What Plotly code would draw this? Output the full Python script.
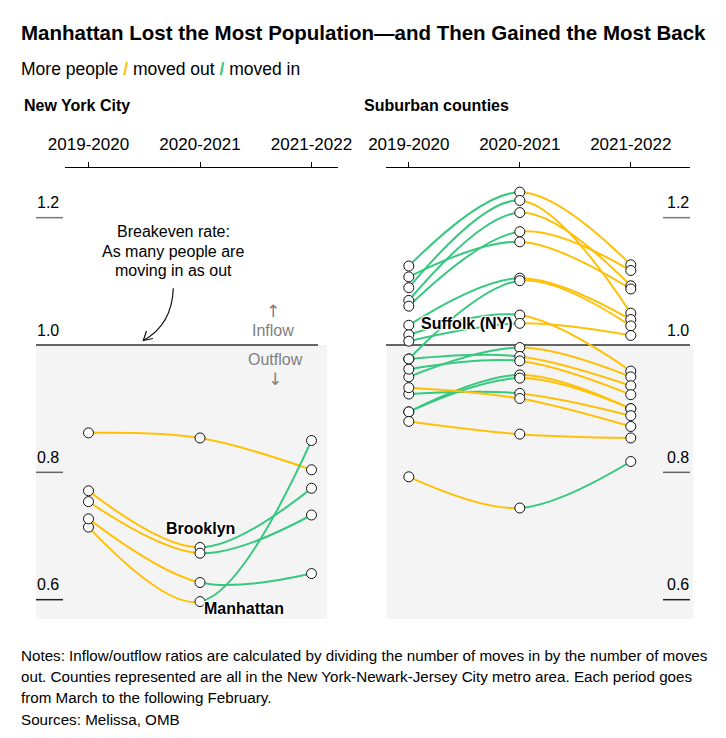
import plotly.graph_objects as go

# periods on the x axis
periods = ["2019-2020", "2020-2021", "2021-2022"]

# New York City boroughs: inflow/outflow ratio per period
nyc_names = ["", "Manhattan", "", "Brooklyn", ""]
nyc_2019 = [0.862, 0.714, 0.727, 0.771, 0.754]
nyc_2020 = [0.854, 0.597, 0.627, 0.682, 0.673]
nyc_2021 = [0.804, 0.850, 0.641, 0.775, 0.733]

# Suburban counties
sub_names = ["", "", "", "", "", "", "", "", "Suffolk (NY)", "", "", "", "", "", "", "", "", ""]
sub_2019 = [1.124, 1.090, 1.070, 1.061, 1.107, 1.031, 0.978, 1.016, 1.006,
            0.950, 0.978, 0.962, 0.895, 0.895, 0.923, 0.933, 0.880, 0.793]
sub_2020 = [1.240, 1.227, 1.208, 1.178, 1.162, 1.105, 1.101, 1.047, 1.034,
            0.996, 0.982, 0.975, 0.953, 0.948, 0.924, 0.916, 0.860, 0.744]
sub_2021 = [1.126, 1.050, 1.093, 1.117, 1.088, 1.040, 1.030, 0.959, 1.015,
            0.950, 0.936, 0.922, 0.900, 0.900, 0.889, 0.872, 0.854, 0.817]

y_ticks = [1.2, 1.0, 0.8, 0.6]

YELLOW = "#FFC107"
GREEN = "#36C97F"
BG = "#F4F4F4"
FONT = "Liberation Sans, Arial, sans-serif"

W, H = 726, 738


def fx(p):
    return p / W


def fy(p):
    return 1 - p / H


# vertical scale: pixel row of 1.0 and pixels per unit
Y0, PPU = 345, 636.7
TOP, BOT = 170, 619
yr = [1 + (Y0 - BOT) / PPU, 1 + (Y0 - TOP) / PPU]
ydom = [fy(BOT), fy(TOP)]

# column centres (pixels) for each panel
L_COLS = [88.5, 200, 311.5]
R_COLS = [408.8, 519.8, 630.8]


def seg_colour(a, b):
    return GREEN if b > a else YELLOW


fig = go.Figure()

# lines: each one drawn twice as a full spline, clipped to each half
panels = [
    ((nyc_2019, nyc_2020, nyc_2021), ("x", "y"), ("x2", "y2")),
    ((sub_2019, sub_2020, sub_2021), ("x3", "y3"), ("x4", "y4")),
]
for (a, b, c), ax1, ax2 in panels:
    for i in range(len(a)):
        vals = [a[i], b[i], c[i]]
        for (xa, ya), col in ((ax1, seg_colour(a[i], b[i])), (ax2, seg_colour(b[i], c[i]))):
            fig.add_trace(go.Scatter(
                x=[0, 1, 2], y=vals, mode="lines", xaxis=xa, yaxis=ya,
                line=dict(color=col, width=2, shape="spline", smoothing=1, simplify=False),
                hoverinfo="skip", showlegend=False,
            ))

# points
for (a, b, c), xa, ya in (((nyc_2019, nyc_2020, nyc_2021), "x5", "y5"),
                          ((sub_2019, sub_2020, sub_2021), "x6", "y6")):
    n = len(a)
    fig.add_trace(go.Scatter(
        x=[0] * n + [1] * n + [2] * n, y=list(a) + list(b) + list(c),
        mode="markers", xaxis=xa, yaxis=ya, cliponaxis=False,
        marker=dict(size=10, color="white", line=dict(color="#111", width=1)),
        hoverinfo="y", showlegend=False,
    ))

hidden = dict(visible=False, showgrid=False, zeroline=False, fixedrange=True)
layout_axes = {}
for k, (cols, j) in enumerate(((L_COLS, 0), (L_COLS, 1), (R_COLS, 0), (R_COLS, 1))):
    n = "" if k == 0 else str(k + 1)
    layout_axes["xaxis" + n] = dict(hidden, domain=[fx(cols[j]), fx(cols[j + 1])], range=[j, j + 1])
    layout_axes["yaxis" + n] = dict(hidden, domain=ydom, range=yr, anchor="x" + n)


def top_axis(cols, left, right):
    step = cols[1] - cols[0]
    return dict(
        domain=[fx(left), fx(right)],
        range=[(left - cols[0]) / step, (right - cols[0]) / step],
        side="top", anchor="free", position=fy(167), automargin=False,
        showline=True, linecolor="#000", linewidth=1,
        ticks="outside", ticklen=5, tickcolor="#000", tickwidth=1,
        tickvals=[0, 1, 2], ticktext=periods, ticklabelstandoff=5,
        tickfont=dict(size=17, color="#000", family=FONT),
        showgrid=False, zeroline=False, fixedrange=True,
    )


layout_axes["xaxis5"] = top_axis(L_COLS, 65, 338)
layout_axes["xaxis6"] = top_axis(R_COLS, 386, 690)
layout_axes["yaxis5"] = dict(hidden, domain=ydom, range=yr, anchor="x5")
layout_axes["yaxis6"] = dict(hidden, domain=ydom, range=yr, anchor="x6")

shapes = []
# grey outflow zones and breakeven line
for x0, x1 in ((36, 327), (387, 693)):
    shapes.append(dict(type="rect", xref="paper", yref="y5", x0=fx(x0), x1=fx(x1),
                       y0=yr[0], y1=1.0, fillcolor=BG, line=dict(width=0), layer="below"))
for x0, x1 in ((36, 318), (386, 690)):
    shapes.append(dict(type="line", xref="paper", yref="y5", x0=fx(x0), x1=fx(x1),
                       y0=1.0, y1=1.0, line=dict(color="#333", width=1.5), layer="below"))
# short value ticks
tick_col = {1.2: "#777", 0.8: "#666", 0.6: "#222"}
for v in y_ticks:
    if v == 1.0:
        continue
    for x0, x1 in ((36, 63), (663, 690)):
        shapes.append(dict(type="line", xref="paper", yref="y5", x0=fx(x0), x1=fx(x1),
                           y0=v, y1=v, line=dict(color=tick_col[v], width=1.5)))


def pth(pts, cmd):
    out = []
    for c, (px, py) in zip(cmd, pts):
        out.append("%s%.5f,%.5f" % (c, fx(px), fy(py)))
    return " ".join(out)


# curved pointer of the breakeven note
shapes.append(dict(type="path", xref="paper", yref="paper",
                   path=pth([(173.3, 288.3), (172, 325), (143.3, 340.5)], ["M", "Q", " "]),
                   line=dict(color="#111", width=1.2)))
shapes.append(dict(type="path", xref="paper", yref="paper",
                   path=pth([(146.5, 331), (143.3, 340.5), (153, 338.5)], ["M", "L", "L"]),
                   line=dict(color="#111", width=1.2)))

ann = []


def txt(text, x, y, size=16, xanchor="left", bold=False, color="#000", family=FONT):
    ann.append(dict(text="<b>%s</b>" % text if bold else text, x=fx(x), y=fy(y),
                    xref="paper", yref="paper", xanchor=xanchor, yanchor="middle",
                    showarrow=False, font=dict(size=size, color=color, family=family)))


txt("Manhattan Lost the Most Population\u2014and Then Gained the Most Back", 19, 32, size=20.5, bold=True)
txt("More people <b><span style='color:%s'>/</span></b> moved out "
    "<b><span style='color:%s'>/</span></b> moved in" % (YELLOW, GREEN), 19, 69, size=17.5)
txt("New York City", 22, 105, bold=True)
txt("Suburban counties", 362, 105, bold=True)

txt("Breakeven rate:", 173, 232, xanchor="center")
txt("As many people are", 173, 251, xanchor="center")
txt("moving in as out", 173, 270, xanchor="center")

ARROW_FONT = "DejaVu Sans, sans-serif"
txt("\u2191", 273, 311, size=17, color="#808080", xanchor="center", family=ARROW_FONT)
txt("Inflow", 273, 330, color="#808080", xanchor="center")
txt("Outflow", 275, 359, color="#808080", xanchor="center")
txt("\u2193", 275, 379, size=17, color="#808080", xanchor="center", family=ARROW_FONT)

notes = [
    "Notes: Inflow/outflow ratios are calculated by dividing the number of moves in by the number of moves",
    "out. Counties represented are all in the New York-Newark-Jersey City metro area. Each period goes",
    "from March to the following February.",
    "Sources: Melissa, OMB",
]
for k, line in enumerate(notes):
    txt(line, 19, 655 + k * 21.4, size=15.2)

# value labels above the short ticks
for v in y_ticks:
    for x, xa in ((35, "left"), (691, "right")):
        ann.append(dict(text=("%.1f" % v), x=fx(x), y=v, xref="paper", yref="y5",
                        xanchor=xa, yanchor="middle", yshift=15, showarrow=False,
                        font=dict(size=16, color="#000", family=FONT)))

halo = ("1px 1px 1px #fff, -1px -1px 1px #fff, 1px -1px 1px #fff, -1px 1px 1px #fff, "
        "0 0 3px #fff")
label_font = dict(size=16, color="#000", family=FONT, shadow=halo)
# borough / county labels tied to the period-2 points
for name, v in zip(nyc_names, nyc_2020):
    if name == "Brooklyn":
        ann.append(dict(text="<b>Brooklyn</b>", x=1, y=v, xref="x5", yref="y5",
                        xanchor="center", yanchor="middle", yshift=19, showarrow=False, font=label_font))
    elif name == "Manhattan":
        ann.append(dict(text="<b>Manhattan</b>", x=1, y=v, xref="x5", yref="y5",
                        xanchor="left", yanchor="middle", xshift=2, yshift=-7, showarrow=False, font=label_font))
for name, v in zip(sub_names, sub_2020):
    if name:
        ann.append(dict(text="<b>%s</b>" % name, x=1, y=v, xref="x6", yref="y6",
                        xanchor="right", yanchor="middle", xshift=-5, showarrow=False, font=label_font))

fig.update_layout(
    width=W, height=H, autosize=False,
    margin=dict(l=0, r=0, t=0, b=0, pad=0, autoexpand=False),
    paper_bgcolor="white", plot_bgcolor="rgba(0,0,0,0)",
    font=dict(family=FONT, color="#000"),
    showlegend=False, hovermode="closest",
    shapes=shapes, annotations=ann,
    **layout_axes,
)

fig.write_html("out.html", config={"responsive": False, "displayModeBar": False},
               post_script="document.body.style.margin='0';document.body.style.overflow='hidden';")
